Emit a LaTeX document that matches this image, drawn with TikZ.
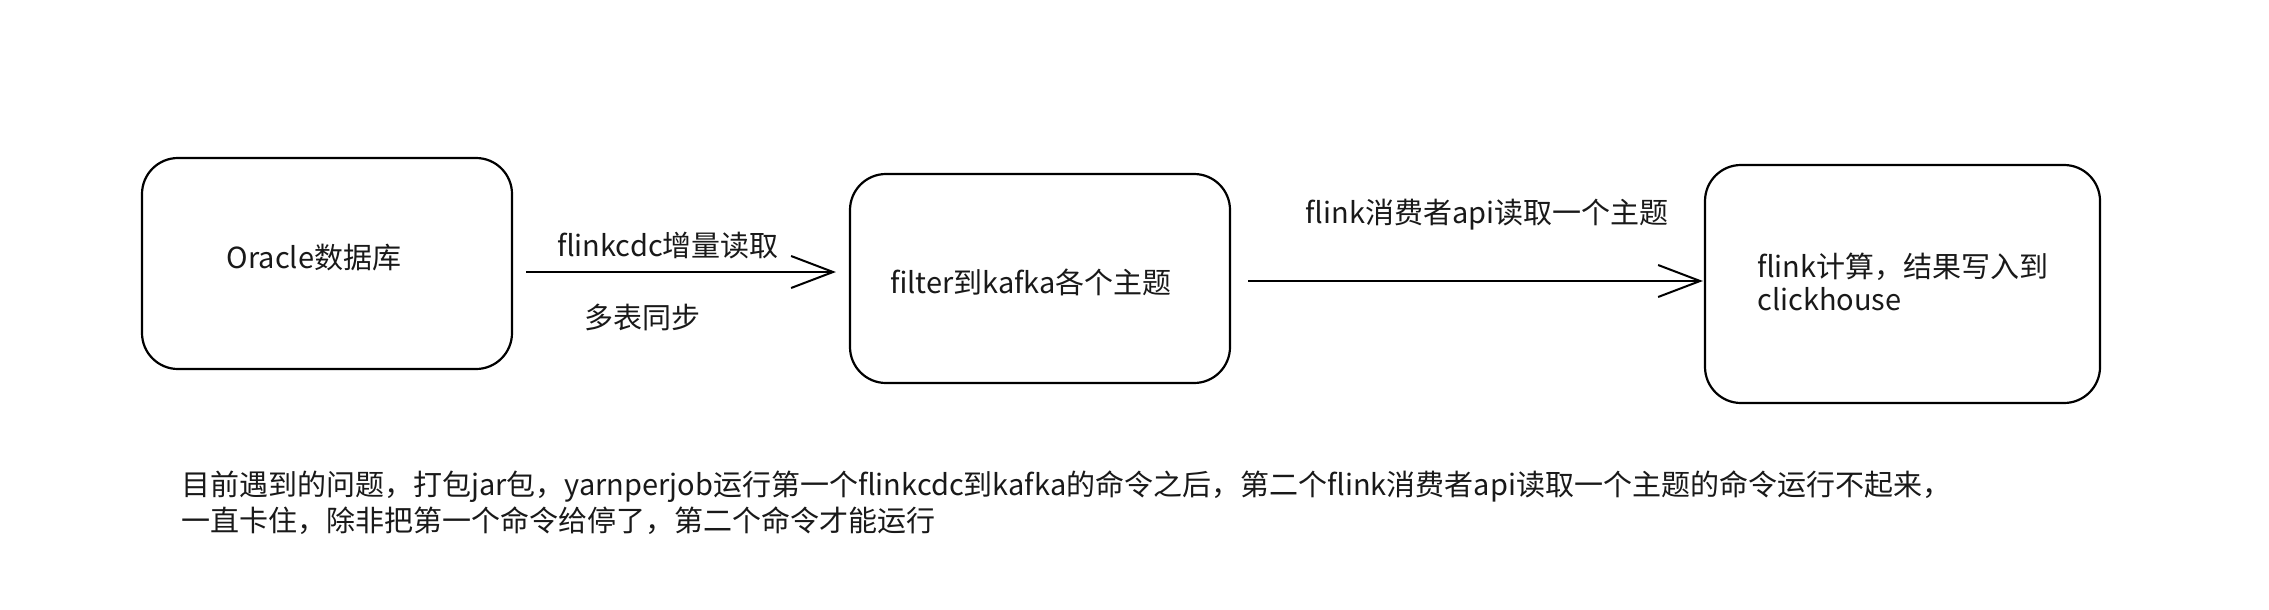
\documentclass[tikz,border=0pt]{standalone}
\usepackage{fontspec}
\setmainfont{Noto Sans CJK SC}
\usetikzlibrary{arrows.meta}
\tikzset{
  box/.style={draw=black, line width=2.2pt, rounded corners=36pt, inner sep=0pt},
  lbl/.style={font=\fontsize{29}{36}\selectfont, text=black!90, inner sep=0pt},
  arr/.style={draw=black, line width=2.2pt, -{Straight Barb[length=42pt,width=32pt,line width=2pt]}},
}
\begin{document}
\begin{tikzpicture}[x=1pt,y=-1pt]
\useasboundingbox[fill=white] (0,0) rectangle (2269,610);
% boxes
\node[box, minimum width=370pt, minimum height=211pt] (b1) at (327,263.5) {};
\node[box, minimum width=380pt, minimum height=209pt] (b2) at (1040,278.5) {};
\node[box, minimum width=395pt, minimum height=238pt] (b3) at (1902.5,284) {};
% box texts
\node[lbl] (t1) at (314,258) {Oracle数据库};
\node[lbl] (t2) at (1031,282) {filter到kafka各个主题};
\node[lbl, anchor=west, align=left, font=\fontsize{29}{33}\selectfont] (t3) at (1757,282) {flink计算，结果写入到\\clickhouse};
% arrows
\coordinate (y1) at (0,272);
\coordinate (y2) at (0,281);
\draw[arr, shorten <=13pt, shorten >=13pt] (b1.east |- y1) -- (b2.west |- y1);
\draw[arr, shorten <=17pt, shorten >=1pt] (b2.east |- y2) -- (b3.west |- y2);
% arrow labels
\node[lbl] (l1) at (668,246) {flinkcdc增量读取};
\node[lbl] (l2) at (642,317) {多表同步};
\node[lbl] (l3) at (1487,215) {flink消费者api读取一个主题};
% bottom note
\node[lbl, anchor=west, align=left, font=\fontsize{29}{36}\selectfont] (note) at (181,503) {目前遇到的问题，打包jar包，yarnperjob运行第一个flinkcdc到kafka的命令之后，第二个flink消费者api读取一个主题的命令运行不起来，\\一直卡住，除非把第一个命令给停了，第二个命令才能运行};
\end{tikzpicture}
\end{document}
